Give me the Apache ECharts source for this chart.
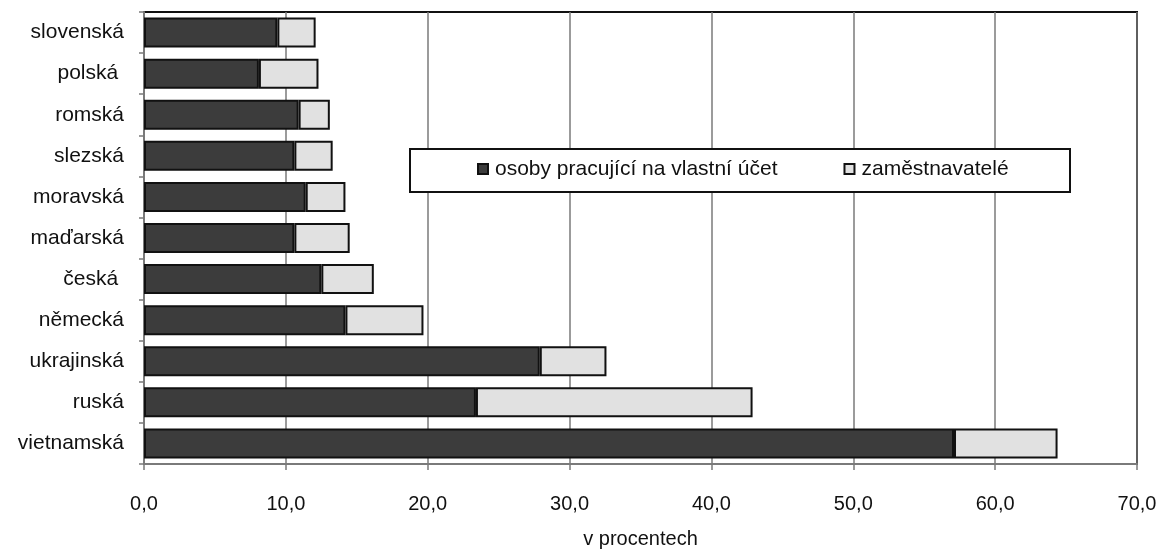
<!DOCTYPE html>
<html><head><meta charset="utf-8">
<script src="https://cdn.jsdelivr.net/npm/echarts@6/dist/echarts.min.js"></script>
<style>html,body{margin:0;padding:0;background:#fff}#c{width:1161px;height:549px}</style>
</head><body><div id="c"></div>
<script>
const categories = ['slovenská','polská ','romská','slezská','moravská','maďarská','česká ','německá','ukrajinská','ruská','vietnamská'];
const selfEmployed = [9.4, 8.1, 10.9, 10.6, 11.4, 10.6, 12.5, 14.2, 27.9, 23.4, 57.1];
const employers = [2.7, 4.2, 2.2, 2.7, 2.8, 3.9, 3.7, 5.5, 4.7, 19.5, 7.3];
const seriesNames = ['osoby pracující na vlastní účet', 'zaměstnavatelé'];
const xTicks = {min: 0, max: 70, interval: 10};
const xTitle = 'v procentech';

const chart = echarts.init(document.getElementById('c'), null, {renderer: 'canvas'});
const font = 'Liberation Sans, Arial, sans-serif';
chart.setOption({
  animation: false,
  backgroundColor: '#fff',
  grid: {left: 144, right: 24, top: 12, bottom: 85, outerBoundsMode: 'none', containLabel: false,
    show: true, borderColor: '#111', borderWidth: 2, backgroundColor: 'transparent'},
  xAxis: {
    type: 'value', min: xTicks.min, max: xTicks.max, interval: xTicks.interval,
    name: xTitle, nameLocation: 'middle', nameGap: 65,
    nameTextStyle: {fontFamily: font, fontSize: 20, color: '#111'},
    axisLine: {show: true, lineStyle: {color: '#7a7a7a', width: 2}},
    axisTick: {show: true, length: 6, lineStyle: {color: '#7a7a7a', width: 1.5}},
    axisLabel: {fontFamily: font, fontSize: 20, color: '#111', margin: 30,
      formatter: v => v.toFixed(1).replace('.', ',')},
    splitLine: {show: true, lineStyle: {color: '#7a7a7a', width: 1.5}}
  },
  yAxis: {
    type: 'category', data: categories, inverse: true,
    axisLine: {show: true, lineStyle: {color: '#7a7a7a', width: 2}},
    axisTick: {show: true, length: 5, lineStyle: {color: '#7a7a7a', width: 1.5}},
    axisLabel: {fontFamily: font, fontSize: 21, color: '#111', margin: 20},
    splitLine: {show: false}
  },
  graphic: [{
    type: 'rect', z: 10, left: 409, top: 148,
    shape: {width: 660, height: 43},
    style: {fill: '#fff', stroke: '#111', lineWidth: 2}
  }],
  legend: {
    z: 20, left: 477, top: 157, padding: 0,
    itemWidth: 10, itemHeight: 10, itemGap: 66,
    icon: 'rect',
    textStyle: {fontFamily: font, fontSize: 21, lineHeight: 24, color: '#111', padding: [0, 0, 0, 2]},
    data: seriesNames
  },
  series: [
    {name: seriesNames[0], type: 'bar', stack: 's', data: selfEmployed, barCategoryGap: '27%',
      itemStyle: {color: '#3c3c3c', borderColor: '#111', borderWidth: 2}},
    {name: seriesNames[1], type: 'bar', stack: 's', data: employers, barCategoryGap: '27%',
      itemStyle: {color: '#e1e1e1', borderColor: '#111', borderWidth: 2}}
  ]
});
</script></body></html>
